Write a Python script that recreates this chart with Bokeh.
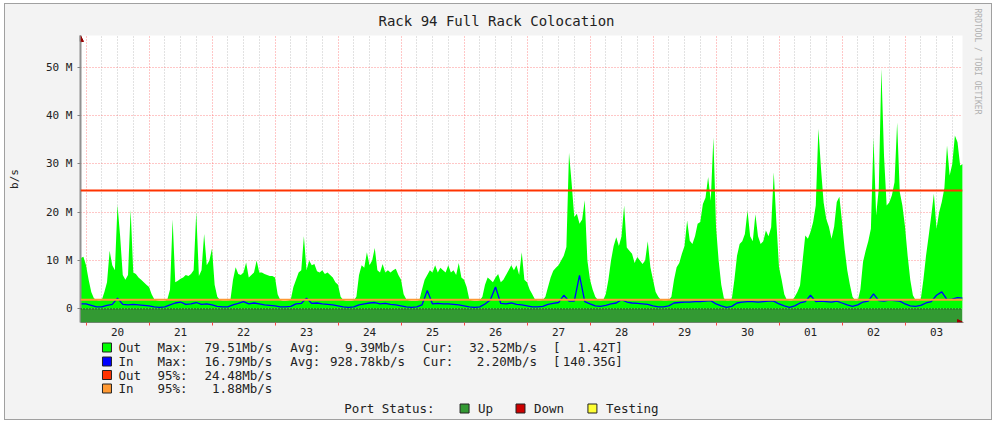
import numpy as np
from bokeh.plotting import figure
from bokeh.layouts import column
from bokeh.models import (Span, BoxAnnotation, FixedTicker, Arrow, NormalHead, Range1d,
                          Title)
from bokeh.core.properties import value
from bokeh.embed import file_html
from bokeh.resources import INLINE

# ---------------- data ----------------
TITLE = "Rack 94 Full Rack Colocation"
SIDE_TEXT = "RRDTOOL / TOBI OETIKER"
Y_LABEL = "b/s"
DAY_LABELS = ["20", "21", "22", "23", "24", "25", "26", "27", "28", "29", "30", "01", "02", "03"]
Y_TICKS = [0, 10, 20, 30, 40, 50]
Y_TICK_LABELS = ["0", "10 M", "20 M", "30 M", "40 M", "50 M"]

# Out traffic (Mb/s), hourly, first sample at hour -2 (hours counted from day 20 00:00)
OUT_START_HOUR = -2
OUT_PRE = [10.5, 10.8]
OUT_D20 = [9, 6, 3.5, 2.2, 1.8, 1.7, 1.8, 3.5, 5.5, 12, 9, 8, 21.5, 15, 7, 6, 7, 20.5, 7.5, 7.2, 6.5, 6, 5.5, 5]
OUT_D21 = [4.5, 3, 2, 1.7, 1.6, 1.6, 1.6, 2, 4, 18.5, 5.5, 5.8, 6.2, 6.5, 7, 6.8, 7.2, 8, 20, 6.8, 8, 15.5, 9, 10]
OUT_D22 = [12.5, 5, 2.5, 1.8, 1.7, 1.7, 1.7, 1.8, 6, 8.6, 7.2, 7, 7.5, 9.6, 6.5, 7, 7.5, 10, 7.5, 7.5, 7.2, 7, 6.8, 6.8]
OUT_D23 = [6.5, 3, 1.8, 1.6, 1.6, 1.7, 1.9, 4.5, 6, 7.5, 8, 15, 8, 10, 9, 9.3, 7.8, 7.5, 8, 7.2, 7.5, 7, 6.5, 5.5]
OUT_D24 = [5, 2.5, 1.8, 1.6, 1.6, 1.6, 1.7, 2.5, 7, 9, 8.5, 11.7, 9, 10, 12.6, 8, 7.5, 9.3, 7.5, 8, 7.5, 8, 8.3, 7]
OUT_D25 = [6, 3, 2, 1.7, 1.6, 1.6, 1.6, 1.8, 4, 6, 7, 8, 7.5, 9, 7.5, 8.5, 8, 7.5, 9, 7.5, 8, 7, 9.5, 6.5]
OUT_D26 = [6, 4.5, 2, 1.7, 1.6, 1.6, 1.7, 2.5, 5, 6.5, 6, 5.5, 6.5, 7.2, 5.5, 6, 7, 8, 9, 8, 9, 7, 11.7, 6]
OUT_D27 = [5.5, 4, 3, 2, 1.7, 1.7, 1.8, 2.5, 4.5, 6.5, 7.9, 8.5, 9, 10, 11, 12.8, 32.3, 26, 19, 19.7, 17.6, 18.5, 22.5, 10]
OUT_D28 = [6, 4, 2.5, 1.8, 1.7, 1.8, 3, 6, 10, 13, 14.8, 13, 15, 21.4, 12.7, 12, 11.4, 9.5, 10.7, 10, 9.3, 10, 14, 8.6]
OUT_D29 = [6, 3.5, 2.5, 1.8, 1.7, 1.7, 1.8, 2.5, 6, 8.6, 9.5, 11.4, 13, 18.3, 14.1, 13.4, 15, 17.6, 18, 21.7, 23, 27.3, 22.4, 35.5]
OUT_D30 = [17, 10, 5, 2.2, 1.7, 1.7, 2, 6, 11, 13.4, 14, 15.5, 20.3, 15, 14, 19.6, 15, 13.4, 14, 16.2, 15, 16.9, 28.3, 18]
OUT_D01 = [8.6, 6, 3, 1.8, 1.7, 1.7, 2.5, 3.5, 4.8, 10, 15.2, 14.5, 15.9, 18, 21.4, 37.3, 29, 22, 18.6, 17, 14.5, 17, 22.1, 23.2]
OUT_D02 = [18, 12.4, 8, 5, 2.5, 1.7, 1.7, 4, 9.7, 12, 14, 16.6, 35.5, 19.3, 24.8, 49.7, 31.7, 21.4, 22, 23.5, 26.2, 38.6, 24.2, 21.4]
OUT_D03 = [17, 11, 6, 2.8, 1.8, 1.7, 2, 6, 11, 15, 19.3, 23.8, 16.6, 20, 22.1, 25, 33.8, 27.6, 30, 35.9, 34.5, 29.7, 30]

# In traffic (Mb/s), every 2 hours, first sample at hour -2
IN_START_HOUR = -2
IN_STEP_HOURS = 2
IN_PRE = [1.0]
IN_D20 = [1.0, 0.7, 0.4, 0.4, 0.7, 0.9, 2.2, 0.9, 0.8, 0.9, 0.8, 0.7]
IN_D21 = [0.6, 0.4, 0.3, 0.4, 0.8, 1.2, 1.4, 0.9, 1.0, 1.3, 0.9, 1.0]
IN_D22 = [0.8, 0.5, 0.4, 0.4, 0.8, 1.1, 1.5, 1.0, 1.2, 1.0, 0.8, 0.7]
IN_D23 = [0.6, 0.4, 0.4, 0.5, 1.0, 1.1, 2.2, 1.1, 1.2, 1.0, 0.9, 0.8]
IN_D24 = [0.6, 0.4, 0.3, 0.4, 0.8, 1.0, 1.2, 1.3, 1.0, 1.1, 0.9, 0.8]
IN_D25 = [0.6, 0.4, 0.3, 0.4, 0.8, 3.8, 1.0, 1.1, 1.0, 1.0, 0.9, 0.8]
IN_D26 = [0.6, 0.4, 0.3, 0.4, 1.0, 1.8, 4.5, 1.1, 1.0, 1.2, 0.9, 0.8]
IN_D27 = [0.6, 0.4, 0.4, 0.5, 0.9, 1.1, 1.3, 2.8, 1.6, 1.6, 6.9, 1.5]
IN_D28 = [1.0, 0.6, 0.5, 0.7, 1.0, 1.2, 1.9, 1.4, 1.2, 1.1, 1.0, 0.9]
IN_D29 = [0.6, 0.4, 0.4, 0.6, 1.2, 1.3, 1.4, 1.4, 1.5, 1.5, 1.6, 1.7]
IN_D30 = [1.0, 0.6, 0.3, 0.5, 1.2, 1.4, 1.5, 1.5, 1.4, 1.5, 1.6, 1.6]
IN_D01 = [1.0, 0.6, 0.3, 0.6, 1.2, 1.5, 2.8, 1.5, 1.6, 1.5, 1.4, 1.6]
IN_D02 = [1.2, 0.8, 0.5, 0.8, 1.4, 1.6, 3.1, 1.7, 1.6, 1.8, 1.7, 1.6]
IN_D03 = [1.0, 0.6, 0.5, 0.7, 1.2, 1.5, 2.8, 3.5, 1.9, 2.0, 2.3, 2.2]

OUT_95 = 24.48
IN_95 = 1.88

LEGEND_NAMES = ["Out", "In", "Out", "In"]
LEGEND_COLORS = ["#00ff00", "#0000ff", "#ff3300", "#ff9933"]
LEGEND_STAT1 = ["Max:", "Max:", "95%:", "95%:"]
LEGEND_VAL1 = ["79.51Mb/s", "16.79Mb/s", "24.48Mb/s", "1.88Mb/s"]
LEGEND_AVG = ["9.39Mb/s", "928.78kb/s"]
LEGEND_CUR = ["32.52Mb/s", "2.20Mb/s"]
LEGEND_TOTAL = ["1.42T]", "140.35G]"]
STATUS_LABEL = "Port Status:"
STATUS_NAMES = ["Up", "Down", "Testing"]
STATUS_COLORS = ["#339933", "#cc0000", "#ffff33"]

# ---------------- build ----------------
OUT = (OUT_PRE + OUT_D20 + OUT_D21 + OUT_D22 + OUT_D23 + OUT_D24 + OUT_D25 + OUT_D26
       + OUT_D27 + OUT_D28 + OUT_D29 + OUT_D30 + OUT_D01 + OUT_D02 + OUT_D03)
IN = (IN_PRE + IN_D20 + IN_D21 + IN_D22 + IN_D23 + IN_D24 + IN_D25 + IN_D26
      + IN_D27 + IN_D28 + IN_D29 + IN_D30 + IN_D01 + IN_D02 + IN_D03)
out_hours = OUT_START_HOUR + np.arange(len(OUT))
in_hours = IN_START_HOUR + IN_STEP_HOURS * np.arange(len(IN))

FONT = "DejaVu Sans Mono"
TXT = "#222222"
PANEL = "#f3f3f3"

p = figure(width=986, height=335, output_backend="svg", toolbar_location=None,
           x_range=Range1d(-2.1, 333.9), y_range=Range1d(-2.84, 56.6),
           min_border_left=73, min_border_right=29, min_border_top=31, min_border_bottom=17)
p.border_fill_color = PANEL
p.background_fill_color = "white"
p.outline_line_color = None

p.title.text = TITLE
p.title.text_font = FONT
p.title.text_font_size = "14px"
p.title.text_font_style = "normal"
p.title.text_color = TXT
p.title.align = "left"
p.title.offset = 298
p.title.vertical_align = "top"
p.title.text_line_height = 0.5

side = Title(text=SIDE_TEXT, align="left", text_font=FONT, text_font_size="8px",
             text_font_style="normal", text_color="#b0b0b0", offset=-27,
             vertical_align="middle", standoff=18)
p.add_layout(side, "right")

n_days = len(DAY_LABELS)
midnights = [24 * i for i in range(n_days + 1)]
noons = [24 * i + 12 for i in range(n_days)]
six_hours = [6 * i for i in range(4 * n_days + 1) if i % 4 != 0]

# grids
p.xgrid.ticker = FixedTicker(ticks=midnights, minor_ticks=six_hours)
p.xgrid.grid_line_color = "#ff6060"
p.xgrid.grid_line_alpha = 0.7
p.xgrid.grid_line_dash = "1 2"
p.xgrid.minor_grid_line_color = "#b8b8b8"
p.xgrid.minor_grid_line_alpha = 0.8
p.xgrid.minor_grid_line_dash = "1 2"
p.ygrid.ticker = FixedTicker(ticks=[t for t in Y_TICKS if t != 0])
p.ygrid.grid_line_color = "#ff6060"
p.ygrid.grid_line_alpha = 0.7
p.ygrid.grid_line_dash = "1 2"

# axes
p.xaxis.ticker = FixedTicker(ticks=noons, minor_ticks=midnights)
p.xaxis.major_label_overrides = {h: d for h, d in zip(noons, DAY_LABELS)}
p.xaxis.major_tick_line_color = None
p.xaxis.major_tick_out = 0
p.xaxis.major_tick_in = 0
p.xaxis.minor_tick_line_color = "#ff4040"
p.xaxis.minor_tick_out = 3
p.xaxis.minor_tick_in = 0
p.xaxis.major_label_standoff = 2
p.xaxis.axis_line_color = "#808080"
p.xaxis.axis_line_width = 1

p.yaxis.ticker = FixedTicker(ticks=Y_TICKS, minor_ticks=[])
p.yaxis.major_label_overrides = {t: s for t, s in zip(Y_TICKS, Y_TICK_LABELS)}
p.yaxis.major_tick_line_color = "#808080"
p.yaxis.major_tick_out = 3
p.yaxis.major_tick_in = 0
p.yaxis.major_label_standoff = 5
p.yaxis.axis_line_color = "#909090"
p.yaxis.axis_line_width = 2
p.yaxis.axis_label = Y_LABEL
p.yaxis.axis_label_text_font = FONT
p.yaxis.axis_label_text_font_size = "11px"
p.yaxis.axis_label_text_font_style = "normal"
p.yaxis.axis_label_text_color = TXT
p.yaxis.axis_label_standoff = 22
for ax in (p.xaxis, p.yaxis):
    ax.major_label_text_font = FONT
    ax.major_label_text_font_size = "11px"
    ax.major_label_text_color = TXT

# data
p.varea(x=out_hours, y1=0, y2=OUT, fill_color=LEGEND_COLORS[0])
p.line(in_hours, IN, line_color=LEGEND_COLORS[1], line_width=1.3)

# port status band (Up for the whole period)
p.add_layout(BoxAnnotation(top=0, fill_color=STATUS_COLORS[0], fill_alpha=1, line_color=None))
p.add_layout(Span(location=0, dimension="width", line_color="black", line_dash="1 2", line_width=1))
p.add_layout(Span(location=IN_95, dimension="width", line_color=LEGEND_COLORS[3], line_width=2))
p.add_layout(Span(location=OUT_95, dimension="width", line_color=LEGEND_COLORS[2], line_width=2))

# axis arrow heads (inside the frame edges)
p.add_layout(Arrow(end=NormalHead(size=6, fill_color="#990000", line_color="#990000"),
                   x_start=0, y_start=280, x_end=0, y_end=287,
                   start_units="screen", end_units="screen", line_color="#909090", line_width=2))
p.add_layout(Arrow(end=NormalHead(size=6, fill_color="#990000", line_color="#990000"),
                   x_start=876, y_start=0, x_end=883, y_end=0,
                   start_units="screen", end_units="screen", line_color="#808080", line_width=1))

# ---------------- legend panel (page pixel coordinates) ----------------
# this figure's frame is aligned with the chart frame (page x 80..963)
q = figure(width=986, height=80, output_backend="svg", toolbar_location=None,
           x_range=Range1d(80, 963), y_range=Range1d(419, 339),
           x_axis_location=None, y_axis_location=None,
           min_border=0, min_border_left=0, min_border_right=0, min_border_top=0, min_border_bottom=0)
q.border_fill_color = PANEL
q.background_fill_color = PANEL
q.outline_line_color = None
q.grid.grid_line_color = None

row_y = [347, 361, 374.5, 388]
status_y = 408

bx, by, bc = [], [], []
tl_x, tl_y, tl_t = [], [], []   # left aligned texts
tr_x, tr_y, tr_t = [], [], []   # right aligned texts
for i in range(4):
    y = row_y[i]
    bx.append(106.5); by.append(y); bc.append(LEGEND_COLORS[i])
    tl_x += [118, 157]; tl_y += [y, y]; tl_t += [LEGEND_NAMES[i], LEGEND_STAT1[i]]
    tr_x.append(272); tr_y.append(y); tr_t.append(LEGEND_VAL1[i])
    if i < 2:
        tl_x += [290, 423, 553]; tl_y += [y, y, y]; tl_t += ["Avg:", "Cur:", "["]
        tr_x += [405, 537, 623]; tr_y += [y, y, y]
        tr_t += [LEGEND_AVG[i], LEGEND_CUR[i], LEGEND_TOTAL[i]]

tl_x.append(344); tl_y.append(status_y); tl_t.append(STATUS_LABEL)
for name, color, x0 in zip(STATUS_NAMES, STATUS_COLORS, [464.5, 520.5, 592.5]):
    bx.append(x0); by.append(status_y); bc.append(color)
    tl_x.append(x0 + 13.5); tl_y.append(status_y); tl_t.append(name)

q.rect(x=bx, y=by, width=9, height=9, fill_color=bc, line_color="#222222", line_width=1)
q.text(x=tl_x, y=tl_y, text=tl_t, text_font=value(FONT), text_font_size="12.5px",
       text_color=TXT, text_align="left", text_baseline="middle")
q.text(x=tr_x, y=tr_y, text=tr_t, text_font=value(FONT), text_font_size="12.5px",
       text_color=TXT, text_align="right", text_baseline="middle")

layout = column(p, q, spacing=0,
                styles={"margin-left": "4px", "margin-top": "3px",
                        "border": "1px solid #a0a0a0", "background-color": PANEL})

open("out.html", "w").write(file_html(layout, INLINE))
